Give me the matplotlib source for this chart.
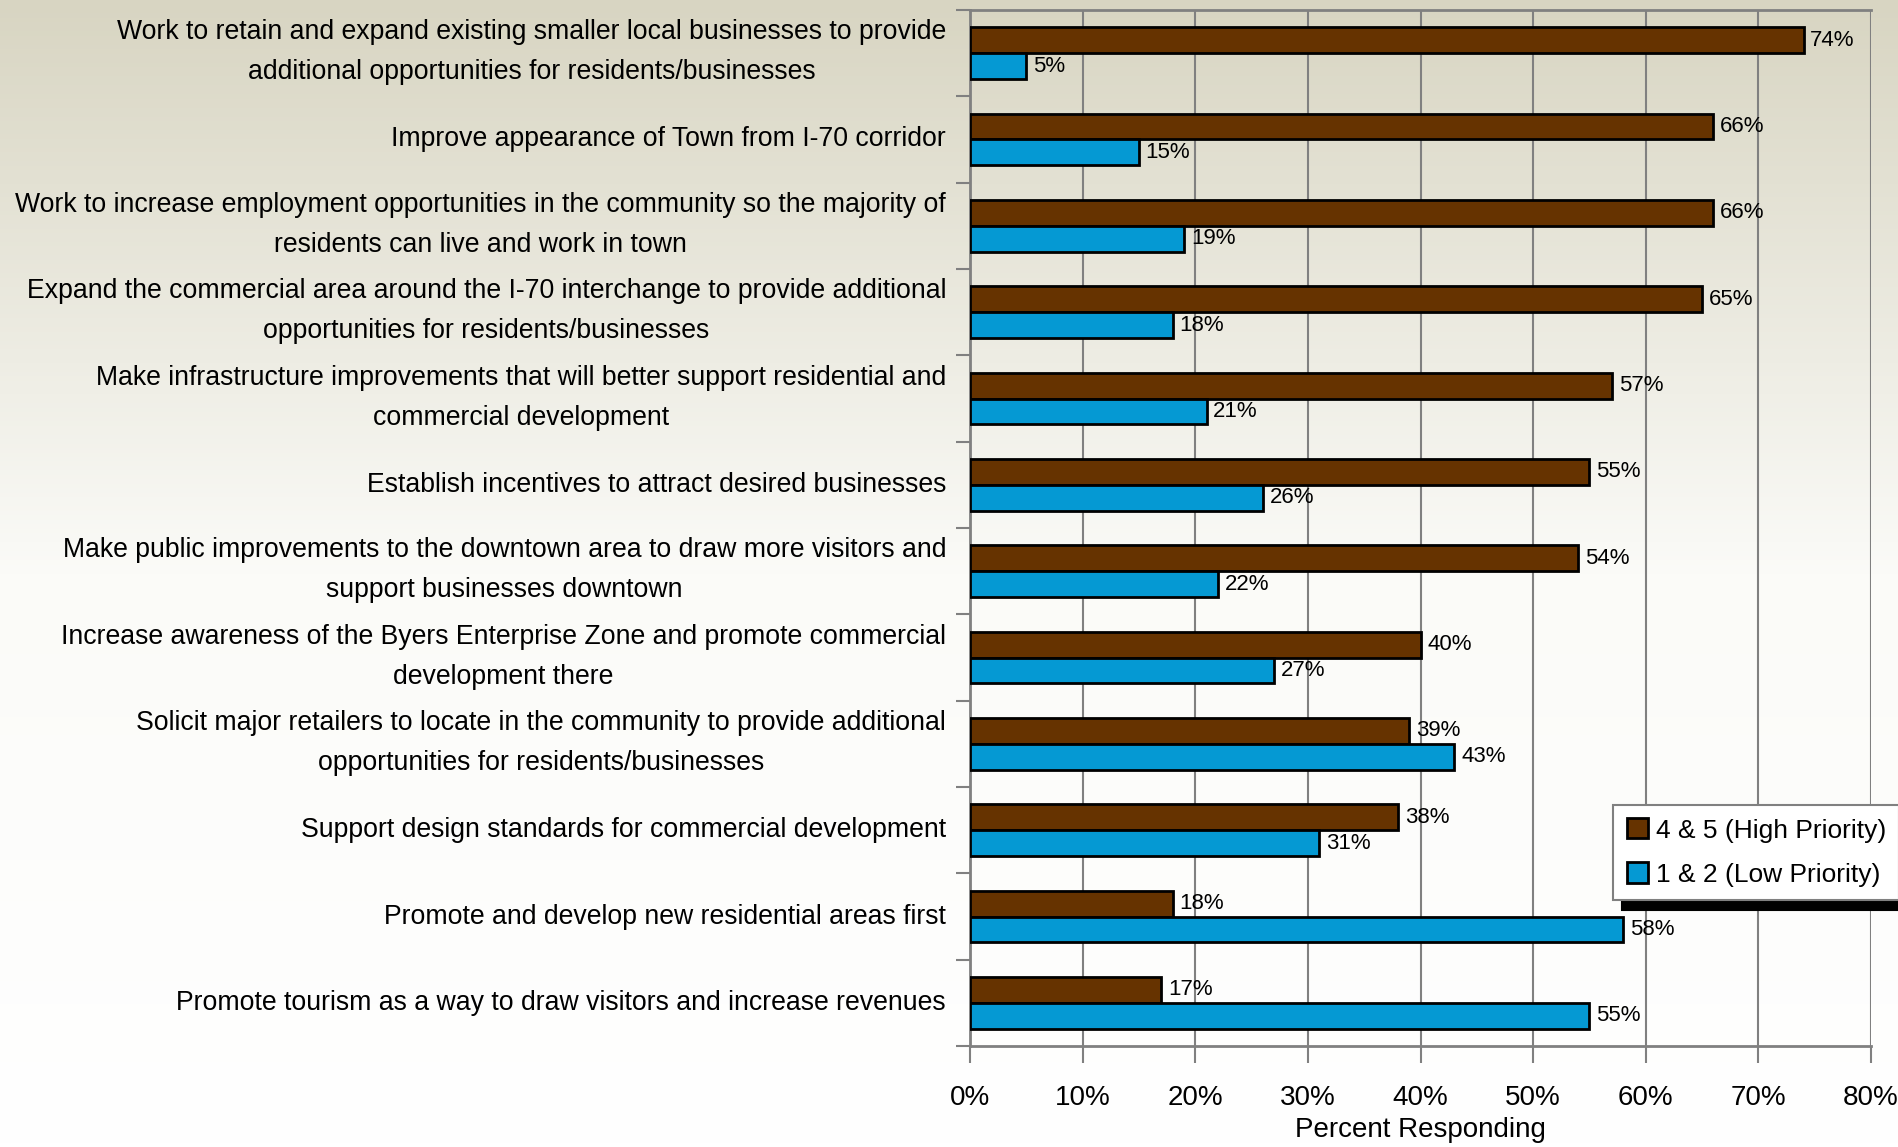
import numpy as np
import matplotlib
matplotlib.use('Agg')
import matplotlib.pyplot as plt
import matplotlib.transforms as mtransforms
from matplotlib.colors import LinearSegmentedColormap

plt.rcParams['font.family'] = ['Liberation Sans Narrow', 'Liberation Sans', 'DejaVu Sans']

categories = [
    'Work to retain and expand existing smaller local businesses to provide\nadditional opportunities for residents/businesses',
    'Improve appearance of Town from I-70 corridor',
    'Work to increase employment opportunities in the community so the majority of\nresidents can live and work in town',
    'Expand the commercial area around the I-70 interchange to provide additional\nopportunities for residents/businesses',
    'Make infrastructure improvements that will better support residential and\ncommercial development',
    'Establish incentives to attract desired businesses',
    'Make public improvements to the downtown area to draw more visitors and\nsupport businesses downtown',
    'Increase awareness of the Byers Enterprise Zone and promote commercial\ndevelopment there',
    'Solicit major retailers to locate in the community to provide additional\nopportunities for residents/businesses',
    'Support design standards for commercial development',
    'Promote and develop new residential areas first',
    'Promote tourism as a way to draw visitors and increase revenues',
]
high = [74, 66, 66, 65, 57, 55, 54, 40, 39, 38, 18, 17]
low = [5, 15, 19, 18, 21, 26, 22, 27, 43, 31, 58, 55]
series_names = ['4 & 5 (High Priority)', '1 & 2 (Low Priority)']
xticks = [0, 10, 20, 30, 40, 50, 60, 70, 80]

brown = '#663300'
blue = '#0599d3'

fig = plt.figure(figsize=(18.99, 11.47), dpi=100)

# gradient background over whole figure
bg = fig.add_axes([0, 0, 1, 1], zorder=-10)
cmap = LinearSegmentedColormap.from_list('bg', ['#ffffff', '#fbfbf8', '#d8d5c2'])
grad = np.linspace(0, 1, 256).reshape(-1, 1)
bg.imshow(grad, aspect='auto', cmap=cmap, origin='lower', extent=[0, 1, 0, 1])
bg.axis('off')

ax = fig.add_axes([0.5108, 0.088, 0.4745, 0.9033])
ax.patch.set_alpha(0)

y = np.arange(len(categories))
h = 0.3
ax.barh(y - h / 2, high, height=h, color=brown, edgecolor='black', linewidth=2, label=series_names[0], zorder=3)
ax.barh(y + h / 2, low, height=h, color=blue, edgecolor='black', linewidth=2, label=series_names[1], zorder=3)

for i in range(len(categories)):
    ax.text(high[i] + 0.6, y[i] - h / 2, f'{high[i]}%', va='center', ha='left', fontsize=16, zorder=4)
    ax.text(low[i] + 0.6, y[i] + h / 2, f'{low[i]}%', va='center', ha='left', fontsize=16, zorder=4)

ax.set_xlim(0, 80)
ax.set_ylim(len(categories) - 0.5, -0.5)
ax.set_xticks(xticks)
ax.set_xticklabels([f'{t}%' for t in xticks], fontsize=20)
ax.xaxis.grid(True, color='#808080', linewidth=1.5, zorder=0)

# y ticks at category boundaries, labels drawn as text at centres
ax.set_yticks(np.arange(-0.5, len(categories), 1.0))
ax.set_yticklabels([])
ax.tick_params(axis='y', which='major', length=10, width=1.5, color='#808080')
ax.tick_params(axis='x', length=12, width=1.5, color='#808080', pad=16)

blend = mtransforms.blended_transform_factory(ax.transAxes, ax.transData)
for i, lab in enumerate(categories):
    up = 1 if '\n' in lab else 0
    tr = blend + mtransforms.ScaledTranslation(-24 / 100, up / 100, fig.dpi_scale_trans)
    ax.text(0, y[i], lab, transform=tr, ha='right', va='center', multialignment='center',
            fontsize=19.2, linespacing=1.7)

ax.set_xlabel('Percent Responding', fontsize=20, labelpad=4)

for s in ['left', 'bottom', 'top']:
    ax.spines[s].set_color('#808080')
    ax.spines[s].set_linewidth(2)
ax.spines['right'].set_visible(False)

leg = ax.legend(loc='upper right', bbox_to_anchor=(1.031, 0.2326), borderaxespad=0,
                fontsize=19, frameon=True, fancybox=False, edgecolor='#808080', framealpha=1,
                handlelength=0.8, handleheight=0.8, handletextpad=0.3,
                labelspacing=0.75, borderpad=0.5,
                shadow={'color': 'black', 'alpha': 1, 'ox': 6, 'oy': -7})
leg.get_frame().set_linewidth(1.5)

fig.savefig('out.png', dpi=100)
